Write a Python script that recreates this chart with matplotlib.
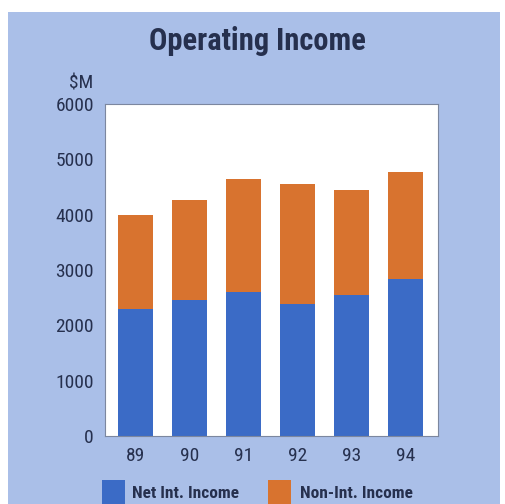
import matplotlib
matplotlib.use("Agg")
import matplotlib.pyplot as plt
from matplotlib.patches import Rectangle
from matplotlib import font_manager

years = ["89", "90", "91", "92", "93", "94"]
net_int_income = [2300, 2460, 2600, 2390, 2540, 2830]
non_int_income = [1690, 1805, 2045, 2170, 1900, 1935]
yticks = [0, 1000, 2000, 3000, 4000, 5000, 6000]
series_names = ["Net Int. Income", "Non-Int. Income"]

names = {f.name for f in font_manager.fontManager.ttflist}
FONT = "DejaVu Sans"
for cand in ["Liberation Sans Narrow", "Roboto Condensed", "Open Sans Condensed",
             "DejaVu Sans Condensed", "Noto Sans Condensed"]:
    if cand in names:
        FONT = cand
        break
plt.rcParams["font.family"] = [FONT, "DejaVu Sans"]
plt.rcParams["font.stretch"] = "condensed"

BG = "#aabfe8"
BLUE = "#3b6bc6"
ORANGE = "#d8732f"
TXT = "#26304e"
W, H = 505, 504

fig = plt.figure(figsize=(5.05, 5.04), dpi=100, facecolor="white")
fig.patches.append(Rectangle((8 / W, 0), 492 / W, 1 - 12 / H,
                             transform=fig.transFigure, facecolor=BG,
                             edgecolor="none", zorder=-10))

ax = fig.add_axes([105 / W, 1 - 436 / H, 333 / W, 332 / H])
ax.set_facecolor("white")
x = range(len(years))
ax.bar(x, net_int_income, width=0.65, color=BLUE, edgecolor="none")
ax.bar(x, non_int_income, width=0.65, bottom=net_int_income, color=ORANGE, edgecolor="none")
ax.set_xlim(-0.565, 5.6)
ax.set_ylim(0, 6000)
ax.set_yticks(yticks)
ax.set_yticklabels([str(v) for v in yticks])
ax.set_xticks(list(x))
ax.set_xticklabels(years)
ax.tick_params(length=0, labelsize=14, colors=TXT)
ax.tick_params(axis="y", pad=8)
ax.tick_params(axis="x", pad=8)
for lab in ax.get_xticklabels() + ax.get_yticklabels():
    lab.set_fontstretch("condensed")
for s in ax.spines.values():
    s.set_color("#7c879f")
    s.set_linewidth(0.8)

fig.text(257.5 / W, 1 - 50 / H, "Operating Income", ha="center", va="baseline",
         fontsize=22, fontweight="bold", color=TXT, fontstretch="condensed")
fig.text(93 / W, 1 - 88 / H, "$M", ha="right", va="baseline",
         fontsize=14, color=TXT, fontstretch="condensed")

# legend drawn as swatches + labels
swatch_x = [102, 268]
text_x = [132, 300]
for sx, tx, col, name in zip(swatch_x, text_x, [BLUE, ORANGE], series_names):
    fig.patches.append(Rectangle((sx / W, 1 - 507 / H), 23 / W, 27 / H,
                                 transform=fig.transFigure, facecolor=col,
                                 edgecolor="none"))
    fig.text(tx / W, 1 - 493 / H, name, ha="left", va="center", fontsize=12.5,
             fontweight="bold", color=TXT, fontstretch="condensed")

fig.savefig("out.png", dpi=100, facecolor="white")
